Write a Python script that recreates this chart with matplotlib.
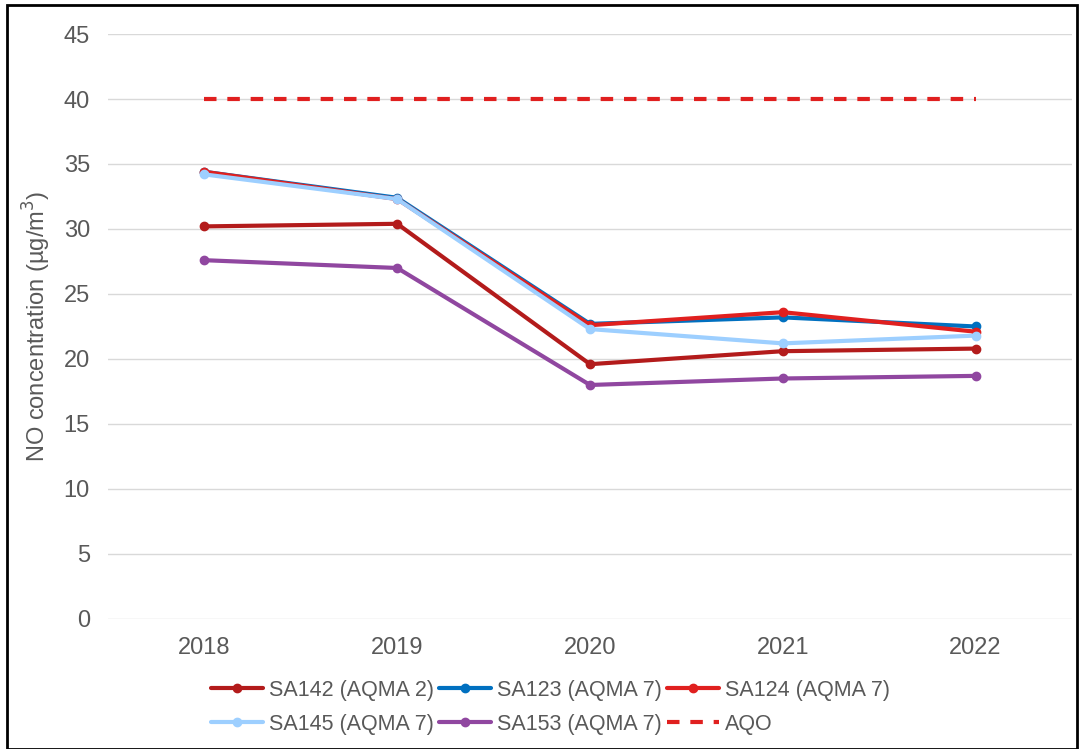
import matplotlib
matplotlib.use("Agg")
import matplotlib.pyplot as plt
from matplotlib.patches import Rectangle

plt.rcParams['font.family'] = ['Liberation Sans', 'DejaVu Sans']

years = ["2018", "2019", "2020", "2021", "2022"]
sa142 = [30.2, 30.4, 19.6, 20.6, 20.8]
sa123 = [34.4, 32.4, 22.7, 23.2, 22.5]
sa124 = [34.4, 32.3, 22.6, 23.6, 22.1]
sa145 = [34.2, 32.3, 22.3, 21.2, 21.8]
sa153 = [27.6, 27.0, 18.0, 18.5, 18.7]
aqo = [40, 40, 40, 40, 40]

series = [
    ("SA142 (AQMA 2)", sa142, "#B31B1B"),
    ("SA123 (AQMA 7)", sa123, "#0070C0"),
    ("SA124 (AQMA 7)", sa124, "#E0201F"),
    ("SA145 (AQMA 7)", sa145, "#9DCFFF"),
    ("SA153 (AQMA 7)", sa153, "#9047A0"),
]

fig = plt.figure(figsize=(10.81, 7.49), dpi=100)
ax = fig.add_axes([0.0999, 0.1736, 0.8918, 0.781])
x = list(range(len(years)))
handles = {}
for name, vals, col in series:
    h, = ax.plot(x, vals, color=col, lw=3, marker='o', ms=6, label=name,
                 solid_capstyle='round', zorder=3)
    handles[name] = h
h_aqo, = ax.plot(x, aqo, color="#E0201F", lw=3, ls=(0, (3, 2.6)), label="AQO", zorder=3)

ax.set_xlim(-0.5, 4.5)
ax.set_ylim(0, 45)
ax.set_yticks(range(0, 46, 5))
ax.set_xticks(x)
ax.set_xticklabels(years)
ax.grid(axis='y', color='#D9D9D9', lw=1)
ax.set_axisbelow(True)
for s in ax.spines.values():
    s.set_visible(False)
ax.tick_params(axis='both', length=0, labelsize=17, labelcolor='#595959')
ax.tick_params(axis='x', pad=13)
ax.tick_params(axis='y', pad=13)
ax.set_ylabel("NO concentration (µg/m$^3$)", fontsize=17, color='#595959')
ax.yaxis.set_label_coords(-0.057, 0.5)

order = [handles["SA142 (AQMA 2)"], handles["SA145 (AQMA 7)"],
         handles["SA123 (AQMA 7)"], handles["SA153 (AQMA 7)"],
         handles["SA124 (AQMA 7)"], h_aqo]
leg = fig.legend(handles=order, labels=[h.get_label() for h in order], ncol=3,
                 loc='center', bbox_to_anchor=(0.509, 0.056), frameon=False,
                 fontsize=15.5, handlelength=2.4, handletextpad=0.28, columnspacing=0.25,
                 labelspacing=0.6)
for t in leg.get_texts():
    t.set_color('#595959')

fig.patches.append(Rectangle((0.0065, 0.0), 0.9895, 0.9935, transform=fig.transFigure,
                             fill=False, edgecolor='black', lw=2))
fig.savefig("out.png", dpi=100)
